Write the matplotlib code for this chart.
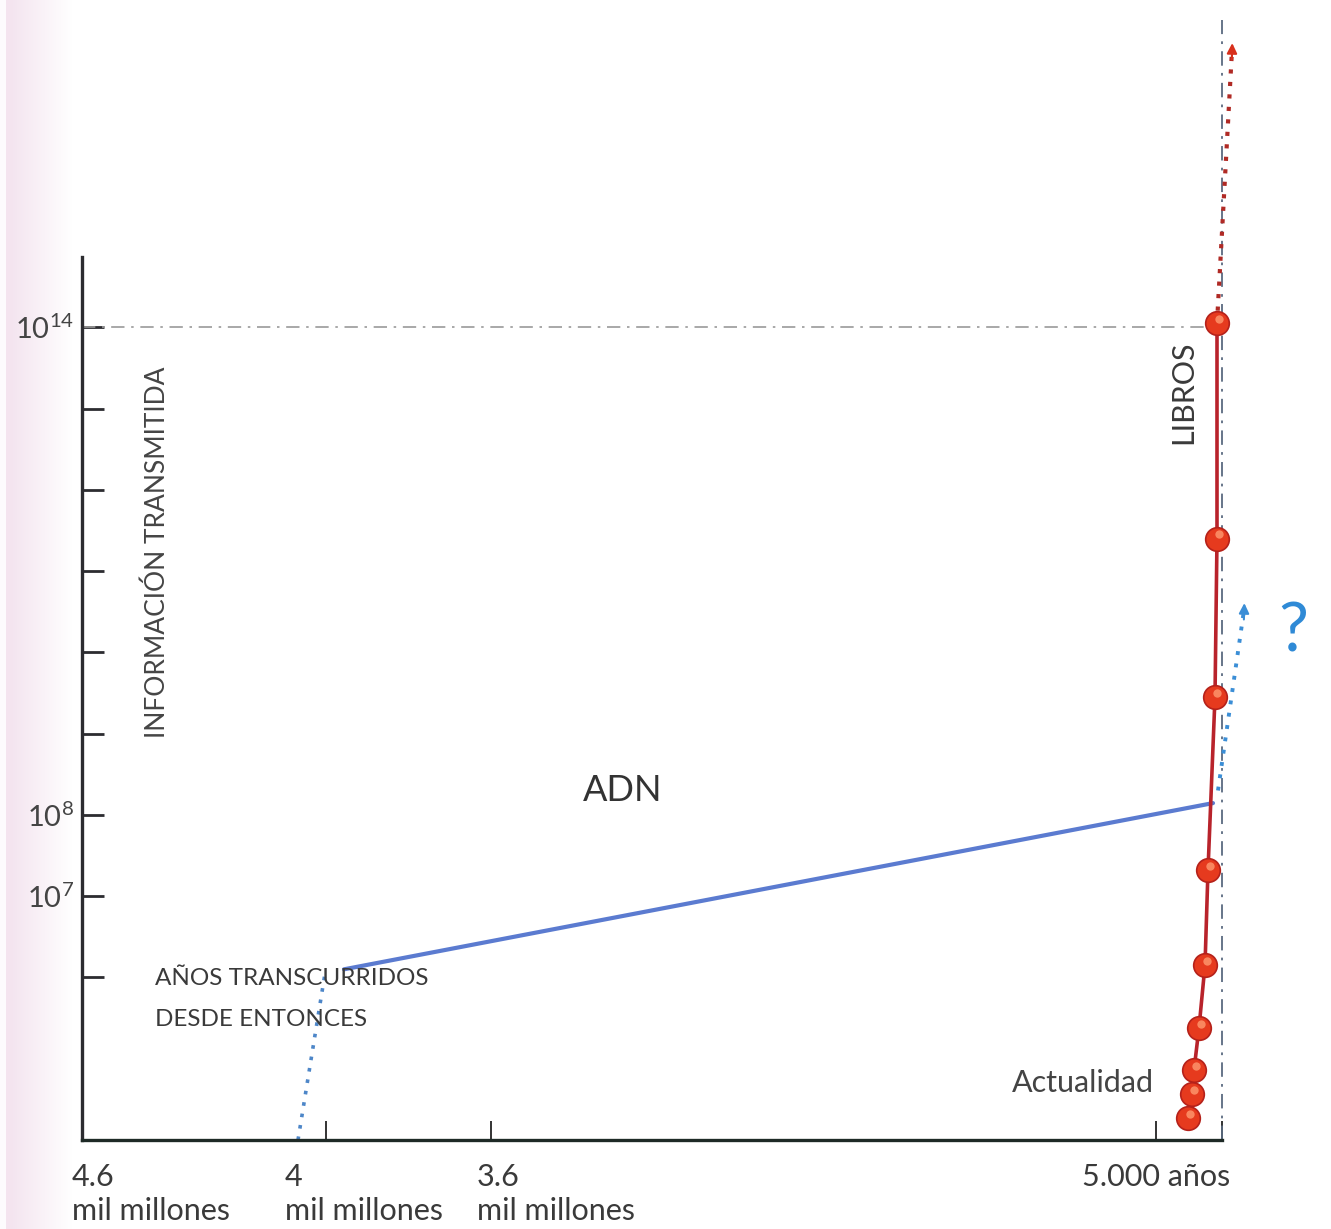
import numpy as np
import matplotlib
matplotlib.use("Agg")
import matplotlib.pyplot as plt
from matplotlib.ticker import FixedLocator, FixedFormatter

plt.rcParams['font.family'] = ['Lato', 'DejaVu Sans']
plt.rcParams['mathtext.fontset'] = 'custom'
plt.rcParams['mathtext.rm'] = 'Lato'
plt.rcParams['mathtext.it'] = 'Lato'

# ---------------- data (x: position along the broken time axis, y: log10 of information) ----
x_tick_pos = [244, 409, 1074, 1140]
x_label_pos = [-10, 203, 395, 1000]
x_labels = ["4.6\nmil millones", "4\nmil millones", "3.6\nmil millones", "5.000 años"]

y_tick_exp = [6, 7, 8, 9, 10, 11, 12, 13, 14]
y_tick_labels = {7: r"$10^{7}$", 8: r"$10^{8}$", 14: r"$10^{14}$"}

# DNA (ADN) line
adn_x = [262, 1131]
adn_y = [6.10, 8.145]
# dotted line from the origin of life up to the start of DNA line
origin_x = [216, 243]
origin_y = [4.0, 6.05]
# dotted "?" projection of DNA
adn_future_x = [1136, 1162]
adn_future_y = [8.30, 10.52]

# books (LIBROS) curve
libros_x = [1106, 1110, 1112, 1117, 1123, 1126, 1133, 1135, 1135]
libros_y = [4.27, 4.57, 4.86, 5.38, 6.15, 7.32, 9.45, 11.40, 14.05]
# dotted projection of books
libros_future_x = [1135, 1150]
libros_future_y = [14.05, 17.41]

# ---------------- figure ----------------
W, H = 1331, 1229
fig = plt.figure(figsize=(W / 100, H / 100), dpi=100)
fig.patch.set_facecolor('white')

# scanned-paper tint on the left edge
bg = fig.add_axes([0, 0, 1, 1], zorder=-10)
bg.set_axis_off()
xs = np.linspace(0, 1, W)
ys = np.linspace(0, 1, H)
X, Y = np.meshgrid(xs, ys)
px = X * W
fade = np.clip(1 - (px - 12) / 60.0, 0, 1) * 0.85
fade[px < 6] = 0.1
pink = np.array([0.95, 0.88, 0.93])
img = np.ones((H, W, 3))
for c in range(3):
    img[:, :, c] = 1 - fade * (1 - pink[c])
bg.imshow(img, extent=[0, 1, 0, 1], aspect='auto', origin='upper')

left = 82 / W
bottom = (H - 1140) / H
top = (H - 20) / H
right = 1310 / W
ax = fig.add_axes([left, bottom, right - left, top - bottom])
ax.patch.set_alpha(0)

ax.set_yscale('log')
ax.set_xlim(0, 1228)
ax.set_ylim(1e4, 10 ** 17.78)

for s in ['top', 'right']:
    ax.spines[s].set_visible(False)
ax.spines['left'].set_bounds(1e4, 10 ** 14.86)
ax.spines['bottom'].set_bounds(0, 1140)
ax.spines['left'].set_linewidth(2.4)
ax.spines['bottom'].set_linewidth(2.4)
ax.spines['left'].set_color('#2c2c30')
ax.spines['bottom'].set_color('#1e2a26')

ax.yaxis.set_major_locator(FixedLocator([10.0 ** e for e in y_tick_exp]))
ax.yaxis.set_major_formatter(FixedFormatter([y_tick_labels.get(e, "") for e in y_tick_exp]))
ax.yaxis.set_minor_locator(FixedLocator([]))
ax.tick_params(axis='y', direction='in', length=16, width=2.0, color='#2c2c30',
               labelsize=21, labelcolor='#444444', pad=6)

ax.xaxis.set_major_locator(FixedLocator(x_tick_pos))
ax.xaxis.set_major_formatter(FixedFormatter([""] * len(x_tick_pos)))
ax.tick_params(axis='x', direction='in', length=14, width=1.4, color='#333333')

for xp, lab in zip(x_label_pos, x_labels):
    ax.text(xp, 10 ** 3.72, lab, ha='left', va='top', fontsize=22, color='#3a3a3a',
            linespacing=1.25, clip_on=False)

# reference lines
ax.plot([0, 1128], [1e14, 1e14], color='#9a9a9a', lw=1.2, ls=(0, (8, 4, 1.5, 4)))
ax.plot([1140, 1140], [1e4, 10 ** 17.78], color='#5a6a80', lw=1.3, ls=(0, (8, 4, 1.5, 4)))

# ADN
ax.plot(origin_x, 10 ** np.array(origin_y), color='#4d86c8', lw=2.6, ls=(0, (1, 2.2)))
ax.plot(adn_x, 10 ** np.array(adn_y), color='#5b7bd0', lw=3.0, solid_capstyle='round')
ax.plot(adn_future_x, 10 ** np.array(adn_future_y), color='#3b8ed6', lw=2.8, ls=(0, (1, 2.2)))
ax.annotate('', xy=(adn_future_x[1] + 0.4, 10 ** (adn_future_y[1] + 0.12)),
            xytext=(adn_future_x[1] - 0.2, 10 ** (adn_future_y[1] - 0.15)),
            arrowprops=dict(arrowstyle='-|>,head_length=0.6,head_width=0.3', color='#3b8ed6', lw=1.5))

# LIBROS
ax.plot(libros_future_x, 10 ** np.array(libros_future_y), color='#b02a25', lw=3.0, ls=(0, (1, 2.0)))
ax.annotate('', xy=(libros_future_x[1] + 0.3, 10 ** (libros_future_y[1] + 0.12)),
            xytext=(libros_future_x[1] - 0.2, 10 ** (libros_future_y[1] - 0.15)),
            arrowprops=dict(arrowstyle='-|>,head_length=0.6,head_width=0.3', color='#d8301c', lw=1.5))
ax.plot(libros_x, 10 ** np.array(libros_y), color='#b8232b', lw=2.6, zorder=4)
ax.plot(libros_x, 10 ** np.array(libros_y), ls='none', marker='o', ms=17,
        mfc='#e63a1e', mec='#b5211a', mew=1.2, zorder=5)
ax.plot(np.array(libros_x) + 1.5, 10 ** (np.array(libros_y) + 0.05), ls='none', marker='o', ms=6,
        mfc='#ff9a70', mec='none', alpha=0.8, zorder=6)

# texts
ax.text(75, 10 ** 11.23, "INFORMACIÓN TRANSMITIDA", rotation=90, ha='center', va='center',
        fontsize=19, color='#454545')
ax.text(1101, 10 ** 13.2, "LIBROS", rotation=90, ha='center', va='center',
        fontsize=22, color='#3a3a3a')
ax.text(541, 10 ** 8.3, "ADN", ha='center', va='center', fontsize=26, color='#333333')
ax.text(73, 10 ** 5.99, "AÑOS TRANSCURRIDOS", ha='left', va='center', fontsize=17.5, color='#3a3a3a')
ax.text(73, 10 ** 5.48, "DESDE ENTONCES", ha='left', va='center', fontsize=17.5, color='#3a3a3a')
ax.text(930, 10 ** 4.7, "Actualidad", ha='left', va='center', fontsize=22, color='#444444')
ax.text(1211, 10 ** 10.25, "?", ha='center', va='center', fontsize=48, color='#2f8ad6')

fig.savefig("out.png", dpi=100)
